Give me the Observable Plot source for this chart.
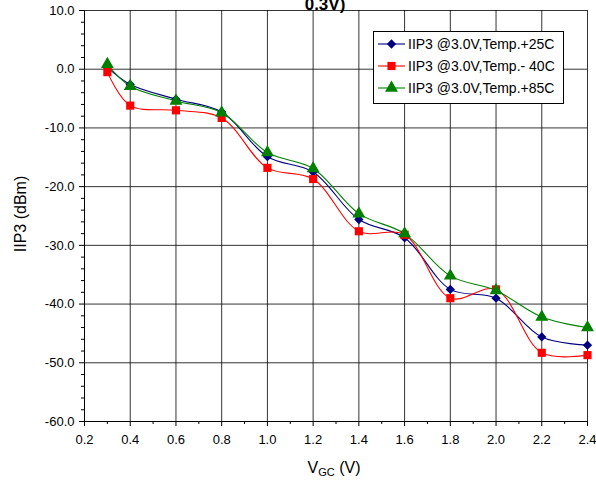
<!DOCTYPE html>
<html><head><meta charset="utf-8">
<script src="https://cdn.jsdelivr.net/npm/d3@7"></script>
<script src="https://cdn.jsdelivr.net/npm/@observablehq/plot@0.6"></script>
<style>body{margin:0;background:#fff} #chart svg{display:block}</style>
</head><body><div id="chart"></div>
<script>
const vgc = [0.3, 0.4, 0.6, 0.8, 1.0, 1.2, 1.4, 1.6, 1.8, 2.0, 2.2, 2.4];
const iip3Temp25 = [0.3, -2.6, -5.1, -7.3, -14.9, -17.5, -25.6, -28.7, -37.5, -39.0, -45.6, -47.0];
const iip3TempM40 = [-0.5, -6.2, -7.0, -8.3, -16.8, -18.7, -27.6, -28.2, -39.0, -37.5, -48.3, -48.7];
const iip3Temp85 = [0.85, -2.9, -5.4, -7.4, -14.2, -16.9, -24.6, -28.0, -35.2, -37.7, -42.2, -44.0];
const seriesNames = ["IIP3 @3.0V,Temp.+25C", "IIP3 @3.0V,Temp.- 40C", "IIP3 @3.0V,Temp.+85C"];
const seriesColors = ["#000080", "#FF0000", "#008000"];
const seriesSymbols = ["diamond2", "square", "triangle"];
const xTicks = [0.2, 0.4, 0.6, 0.8, 1.0, 1.2, 1.4, 1.6, 1.8, 2.0, 2.2, 2.4];
const xMinorTicks = [0.3, 0.5, 0.7, 0.9, 1.1, 1.3, 1.5, 1.7, 1.9, 2.1, 2.3];
const yTicks = [10, 0, -10, -20, -30, -40, -50, -60];
const yMinorTicks = d3.range(-58, 10, 2).filter(v => v % 10 !== 0);
const titleText = "0.3V)";
const yLabel = "IIP3 (dBm)";

const allSeries = [iip3Temp25, iip3TempM40, iip3Temp85];
const rows = [];
allSeries.forEach((vals, s) => vals.forEach((v, i) => rows.push({x: vgc[i], y: v, s: seriesNames[s]})));
const fmt = d => d.toFixed(1);
const FONT = "Liberation Sans, Arial, sans-serif";

const chart = Plot.plot({
  width: 596, height: 480,
  marginLeft: 84, marginRight: 9, marginTop: 10, marginBottom: 59,
  style: {fontFamily: FONT, fontSize: "13px", background: "#fff", color: "#000"},
  x: {domain: [0.2, 2.4]},
  y: {domain: [-60, 10]},
  color: {domain: seriesNames, range: seriesColors},
  symbol: {domain: seriesNames, range: seriesSymbols},
  marks: [
    Plot.gridX(xTicks, {stroke: "#000", strokeOpacity: 0.8, strokeWidth: 1}),
    Plot.gridY(yTicks, {stroke: "#000", strokeOpacity: 0.8, strokeWidth: 1}),
    Plot.axisY(yTicks, {tickFormat: fmt, tickSize: 5, tickPadding: 5, label: null, stroke: "#000", fill: "#000"}),
    Plot.axisY(yMinorTicks, {tickSize: 3, text: null, label: null, stroke: "#000"}),
    Plot.axisX(xTicks, {tickFormat: fmt, tickSize: 5, tickPadding: 8, label: null, stroke: "#000", fill: "#000"}),
    Plot.axisX(xMinorTicks, {tickSize: 3, text: null, label: null, stroke: "#000"}),
    Plot.ruleX([0.2], {stroke: "#000"}),
    Plot.ruleY([-60], {stroke: "#000"}),
    Plot.line(rows, {x: "x", y: "y", z: "s", stroke: "s", curve: "catmull-rom", strokeWidth: 1.1}),
    Plot.dot(rows.filter(d => d.s === seriesNames[0]), {x: "x", y: "y", symbol: "s", fill: "s", r: 4.2, stroke: "none"}),
    Plot.dot(rows.filter(d => d.s === seriesNames[1]), {x: "x", y: "y", symbol: "s", fill: "s", r: 4.6, stroke: "none"}),
    Plot.dot(rows.filter(d => d.s === seriesNames[2]), {x: "x", y: "y", symbol: "s", fill: "s", r: 4.8, stroke: "none"})
  ]
});

const svg = d3.select(chart);
// title: only its last line shows, partly cut at the top edge as in the reference
svg.append("text").attr("x", 325).attr("y", 9.5).attr("text-anchor", "middle")
  .attr("font-weight", "bold").attr("font-size", 17).attr("font-family", FONT)
  .text(titleText);
// y label
svg.append("text").attr("transform", "translate(26,214) rotate(-90)").attr("text-anchor", "middle")
  .attr("font-size", 16).attr("font-family", FONT).attr("fill", "#000").text(yLabel);
// x label with subscript
const xl = svg.append("text").attr("x", 334).attr("y", 473).attr("text-anchor", "middle")
  .attr("font-size", 16).attr("font-family", FONT).attr("fill", "#000");
xl.append("tspan").text("V");
xl.append("tspan").attr("font-size", 11).attr("dy", 3).text("GC");
xl.append("tspan").attr("dy", -3).text(" (V)");

// legend
const lg = svg.append("g").attr("font-family", FONT).attr("font-size", 14).attr("text-anchor", "start");
lg.append("rect").attr("x", 373.5).attr("y", 31.5).attr("width", 190).attr("height", 72).attr("fill", "#fff").attr("stroke", "#000");
const rowY = [44, 66, 88];
const sym = {diamond2: d3.symbolDiamond2, square: d3.symbolSquare, triangle: d3.symbolTriangle};
const symR = [4.2, 4.6, 4.8];
seriesNames.forEach((name, i) => {
  lg.append("line").attr("x1", 378).attr("x2", 405).attr("y1", rowY[i]).attr("y2", rowY[i]).attr("stroke", seriesColors[i]).attr("stroke-width", 1.1);
  lg.append("path").attr("d", d3.symbol(sym[seriesSymbols[i]], Math.PI * symR[i] * symR[i])()).attr("transform", `translate(391.5,${rowY[i]})`).attr("fill", seriesColors[i]);
  lg.append("text").attr("x", 408).attr("y", rowY[i] + 5).attr("fill", "#000").text(name);
});

document.getElementById("chart").appendChild(chart);
</script>
</body></html>
